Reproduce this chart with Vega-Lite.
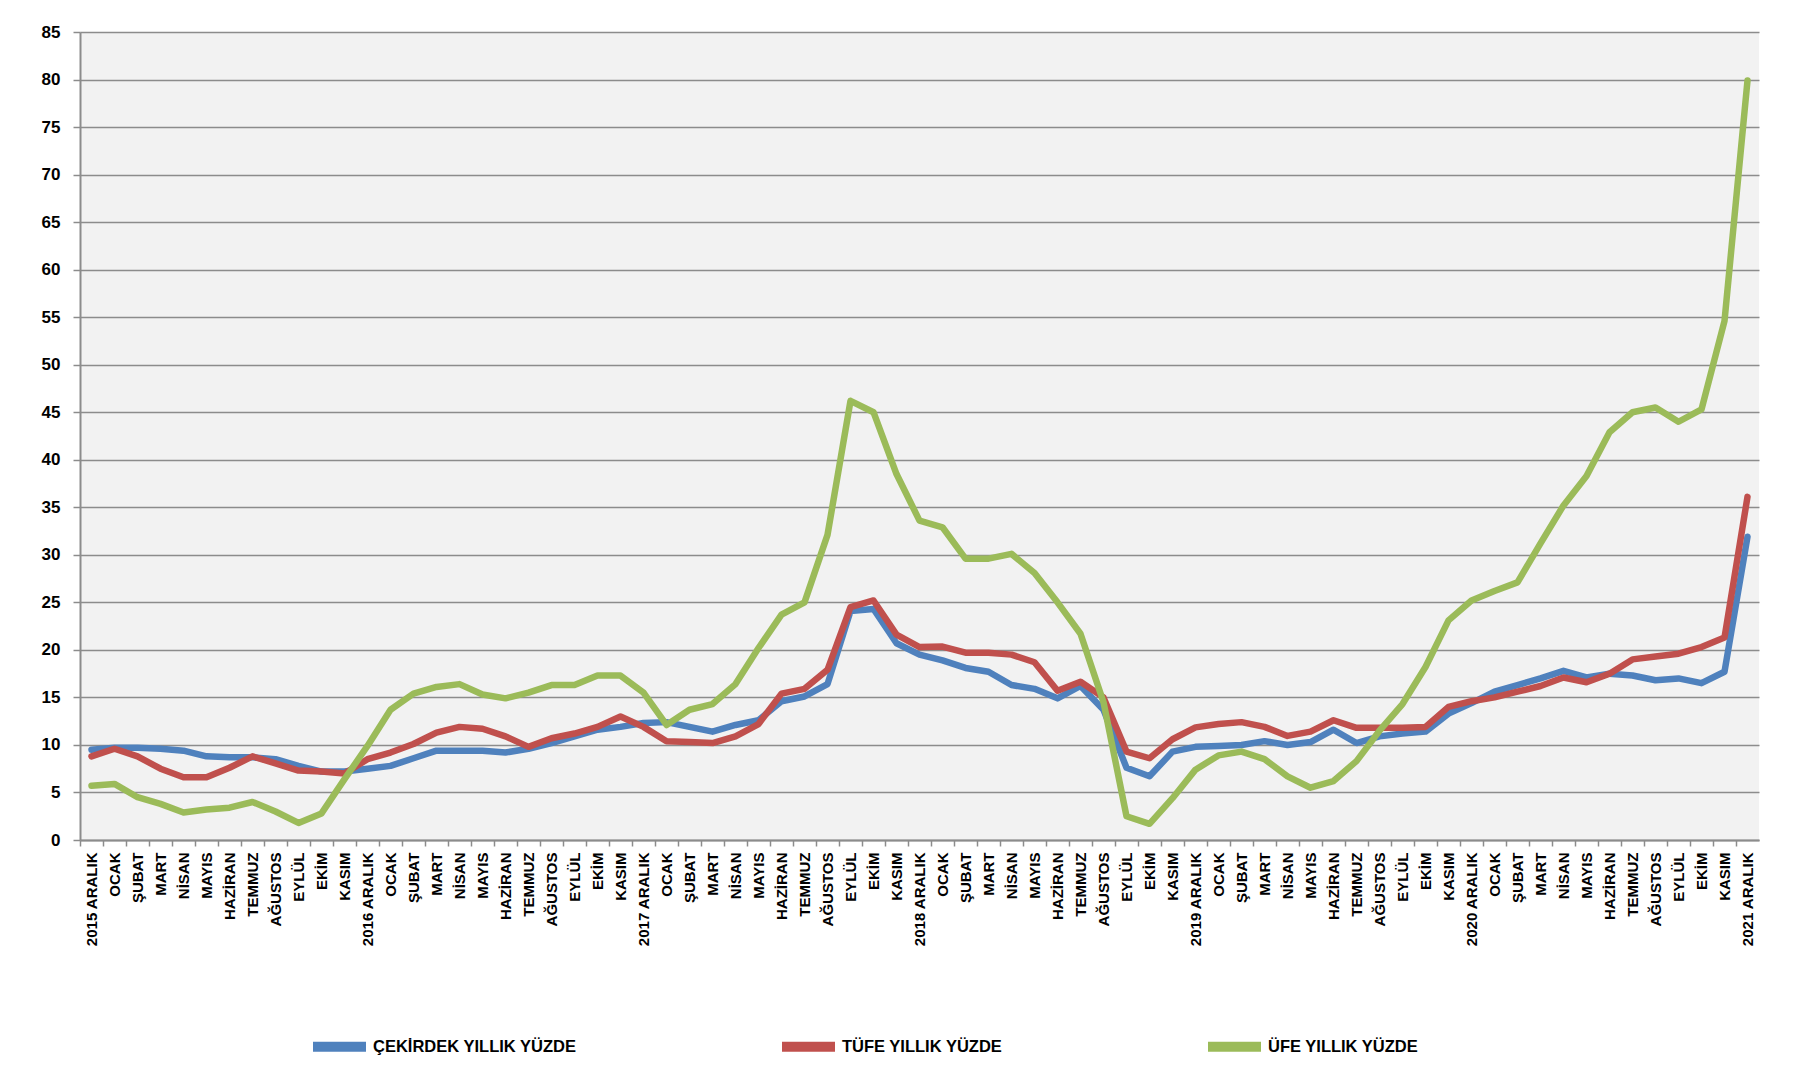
{
  "$schema": "https://vega.github.io/schema/vega-lite/v6.json",
  "width": 1679,
  "height": 808,
  "autosize": {"type": "none"},
  "padding": {"left": 80, "top": 32, "right": 51, "bottom": 248},
  "background": "white",
  "config": {
    "view": {"fill": "#F2F2F2", "stroke": null},
    "font": "Liberation Sans"
  },
  "data": {
    "values": [
      {"ay": "2015 ARALIK", "c": 9.5, "t": 8.8, "u": 5.7},
      {"ay": "2016 OCAK", "c": 9.7, "t": 9.6, "u": 5.9},
      {"ay": "2016 ŞUBAT", "c": 9.7, "t": 8.8, "u": 4.5},
      {"ay": "2016 MART", "c": 9.6, "t": 7.5, "u": 3.8},
      {"ay": "2016 NİSAN", "c": 9.4, "t": 6.6, "u": 2.9},
      {"ay": "2016 MAYIS", "c": 8.8, "t": 6.6, "u": 3.2},
      {"ay": "2016 HAZİRAN", "c": 8.7, "t": 7.6, "u": 3.4},
      {"ay": "2016 TEMMUZ", "c": 8.7, "t": 8.8, "u": 4.0},
      {"ay": "2016 AĞUSTOS", "c": 8.5, "t": 8.05, "u": 3.0},
      {"ay": "2016 EYLÜL", "c": 7.8, "t": 7.3, "u": 1.8},
      {"ay": "2016 EKİM", "c": 7.2, "t": 7.2, "u": 2.8},
      {"ay": "2016 KASIM", "c": 7.2, "t": 7.0, "u": 6.4},
      {"ay": "2016 ARALIK", "c": 7.5, "t": 8.5, "u": 9.9},
      {"ay": "2017 OCAK", "c": 7.8, "t": 9.2, "u": 13.7},
      {"ay": "2017 ŞUBAT", "c": 8.6, "t": 10.1, "u": 15.4},
      {"ay": "2017 MART", "c": 9.4, "t": 11.3, "u": 16.1},
      {"ay": "2017 NİSAN", "c": 9.4, "t": 11.9, "u": 16.4},
      {"ay": "2017 MAYIS", "c": 9.4, "t": 11.7, "u": 15.3},
      {"ay": "2017 HAZİRAN", "c": 9.2, "t": 10.9, "u": 14.9},
      {"ay": "2017 TEMMUZ", "c": 9.6, "t": 9.8, "u": 15.5},
      {"ay": "2017 AĞUSTOS", "c": 10.2, "t": 10.7, "u": 16.3},
      {"ay": "2017 EYLÜL", "c": 10.9, "t": 11.2, "u": 16.3},
      {"ay": "2017 EKİM", "c": 11.6, "t": 11.9, "u": 17.3},
      {"ay": "2017 KASIM", "c": 11.9, "t": 13.0, "u": 17.3},
      {"ay": "2017 ARALIK", "c": 12.3, "t": 11.9, "u": 15.5},
      {"ay": "2018 OCAK", "c": 12.4, "t": 10.4, "u": 12.1},
      {"ay": "2018 ŞUBAT", "c": 11.9, "t": 10.3, "u": 13.7},
      {"ay": "2018 MART", "c": 11.4, "t": 10.2, "u": 14.3},
      {"ay": "2018 NİSAN", "c": 12.1, "t": 10.9, "u": 16.4},
      {"ay": "2018 MAYIS", "c": 12.6, "t": 12.2, "u": 20.2},
      {"ay": "2018 HAZİRAN", "c": 14.6, "t": 15.4, "u": 23.7},
      {"ay": "2018 TEMMUZ", "c": 15.1, "t": 15.9, "u": 25.0},
      {"ay": "2018 AĞUSTOS", "c": 16.4, "t": 17.9, "u": 32.1},
      {"ay": "2018 EYLÜL", "c": 24.1, "t": 24.5, "u": 46.2},
      {"ay": "2018 EKİM", "c": 24.3, "t": 25.2, "u": 45.0},
      {"ay": "2018 KASIM", "c": 20.7, "t": 21.6, "u": 38.5},
      {"ay": "2018 ARALIK", "c": 19.5, "t": 20.3, "u": 33.6},
      {"ay": "2019 OCAK", "c": 18.9, "t": 20.35, "u": 32.9},
      {"ay": "2019 ŞUBAT", "c": 18.1, "t": 19.7, "u": 29.6},
      {"ay": "2019 MART", "c": 17.7, "t": 19.7, "u": 29.6},
      {"ay": "2019 NİSAN", "c": 16.3, "t": 19.5, "u": 30.1},
      {"ay": "2019 MAYIS", "c": 15.9, "t": 18.7, "u": 28.1},
      {"ay": "2019 HAZİRAN", "c": 14.9, "t": 15.7, "u": 25.0},
      {"ay": "2019 TEMMUZ", "c": 16.2, "t": 16.65, "u": 21.7},
      {"ay": "2019 AĞUSTOS", "c": 13.7, "t": 15.0, "u": 14.5},
      {"ay": "2019 EYLÜL", "c": 7.6, "t": 9.3, "u": 2.5},
      {"ay": "2019 EKİM", "c": 6.7, "t": 8.6, "u": 1.7},
      {"ay": "2019 KASIM", "c": 9.3, "t": 10.6, "u": 4.4},
      {"ay": "2019 ARALIK", "c": 9.8, "t": 11.85, "u": 7.4},
      {"ay": "2020 OCAK", "c": 9.9, "t": 12.2, "u": 8.9},
      {"ay": "2020 ŞUBAT", "c": 10.0, "t": 12.4, "u": 9.3},
      {"ay": "2020 MART", "c": 10.4, "t": 11.9, "u": 8.5},
      {"ay": "2020 NİSAN", "c": 10.0, "t": 10.95, "u": 6.7},
      {"ay": "2020 MAYIS", "c": 10.3, "t": 11.4, "u": 5.5},
      {"ay": "2020 HAZİRAN", "c": 11.6, "t": 12.6, "u": 6.2},
      {"ay": "2020 TEMMUZ", "c": 10.2, "t": 11.8, "u": 8.3},
      {"ay": "2020 AĞUSTOS", "c": 10.9, "t": 11.8, "u": 11.5},
      {"ay": "2020 EYLÜL", "c": 11.2, "t": 11.8, "u": 14.3},
      {"ay": "2020 EKİM", "c": 11.4, "t": 11.9, "u": 18.2},
      {"ay": "2020 KASIM", "c": 13.3, "t": 14.0, "u": 23.1},
      {"ay": "2020 ARALIK", "c": 14.4, "t": 14.6, "u": 25.2},
      {"ay": "2021 OCAK", "c": 15.6, "t": 15.0, "u": 26.2},
      {"ay": "2021 ŞUBAT", "c": 16.3, "t": 15.6, "u": 27.1},
      {"ay": "2021 MART", "c": 17.0, "t": 16.2, "u": 31.2},
      {"ay": "2021 NİSAN", "c": 17.8, "t": 17.1, "u": 35.2},
      {"ay": "2021 MAYIS", "c": 17.1, "t": 16.6, "u": 38.3},
      {"ay": "2021 HAZİRAN", "c": 17.5, "t": 17.5, "u": 42.9},
      {"ay": "2021 TEMMUZ", "c": 17.3, "t": 19.0, "u": 45.0},
      {"ay": "2021 AĞUSTOS", "c": 16.8, "t": 19.3, "u": 45.5},
      {"ay": "2021 EYLÜL", "c": 17.0, "t": 19.6, "u": 44.0},
      {"ay": "2021 EKİM", "c": 16.5, "t": 20.3, "u": 45.3},
      {"ay": "2021 KASIM", "c": 17.7, "t": 21.3, "u": 54.6},
      {"ay": "2021 ARALIK", "c": 31.9, "t": 36.1, "u": 79.9}
    ]
  },
  "transform": [
    {"fold": ["c", "t", "u"], "as": ["seri", "deger"]}
  ],
  "layer": [
    {
      "mark": {"type": "line", "opacity": 0},
      "encoding": {
        "x": {
          "field": "ay",
          "type": "ordinal",
          "sort": null,
          "scale": {"type": "band", "paddingInner": 0, "paddingOuter": 0},
          "axis": {
            "orient": "bottom",
            "title": null,
            "labels": false,
            "domain": false,
            "grid": false,
            "bandPosition": 0,
            "ticks": true,
            "tickSize": 6,
            "tickColor": "#8C8C8C",
            "tickWidth": 1.5
          }
        },
        "y": {"field": "deger", "type": "quantitative", "axis": null},
        "detail": {"field": "seri"}
      }
    },
    {
      "mark": {"type": "line", "strokeWidth": 6.5, "strokeJoin": "round", "strokeCap": "round"},
      "encoding": {
        "x": {
          "field": "ay",
          "type": "ordinal",
          "sort": null,
          "scale": {"type": "band", "paddingInner": 0, "paddingOuter": 0},
          "axis": {
            "orient": "bottom",
            "title": null,
            "labelAngle": -90,
            "labelExpr": "indexof(datum.value, 'ARALIK') >= 0 ? datum.value : substring(datum.value, 5)",
            "labelFont": "Liberation Sans",
            "labelFontWeight": "bold",
            "labelFontSize": 15,
            "labelColor": "black",
            "labelPadding": 12,
            "labelOverlap": false,
            "labelBound": false,
            "ticks": false,
            "domainColor": "#8C8C8C",
            "domainWidth": 2,
            "grid": false
          }
        },
        "y": {
          "field": "deger",
          "type": "quantitative",
          "scale": {"domain": [0, 85], "nice": false},
          "axis": {
            "title": null,
            "values": [0, 5, 10, 15, 20, 25, 30, 35, 40, 45, 50, 55, 60, 65, 70, 75, 80, 85],
            "labelFont": "Liberation Sans",
            "labelFontWeight": "bold",
            "labelFontSize": 17,
            "labelColor": "black",
            "labelPadding": 13,
            "tickSize": 7,
            "tickColor": "#8C8C8C",
            "tickWidth": 1.5,
            "domainColor": "#8C8C8C",
            "domainWidth": 2,
            "grid": true,
            "gridColor": "#8C8C8C",
            "gridWidth": 1.6
          }
        },
        "color": {
          "field": "seri",
          "type": "nominal",
          "scale": {
            "domain": ["c", "t", "u"],
            "range": ["#4F81BD", "#C0504D", "#9BBB59"]
          },
          "legend": {
            "title": null,
            "orient": "none",
            "direction": "horizontal",
            "legendX": 228,
            "legendY": 983,
            "symbolType": "stroke",
            "symbolSize": 2809,
            "symbolStrokeWidth": 10,
            "labelExpr": "datum.value == 'c' ? 'ÇEKİRDEK YILLIK YÜZDE' : datum.value == 't' ? 'TÜFE YILLIK YÜZDE' : 'ÜFE YILLIK YÜZDE'",
            "labelFont": "Liberation Sans",
            "labelFontWeight": "bold",
            "labelFontSize": 16.5,
            "labelColor": "black",
            "labelLimit": 400,
            "labelOffset": 2,
            "columnPadding": 185
          }
        }
      }
    }
  ],
  "resolve": {"axis": {"x": "independent", "y": "independent"}}
}
